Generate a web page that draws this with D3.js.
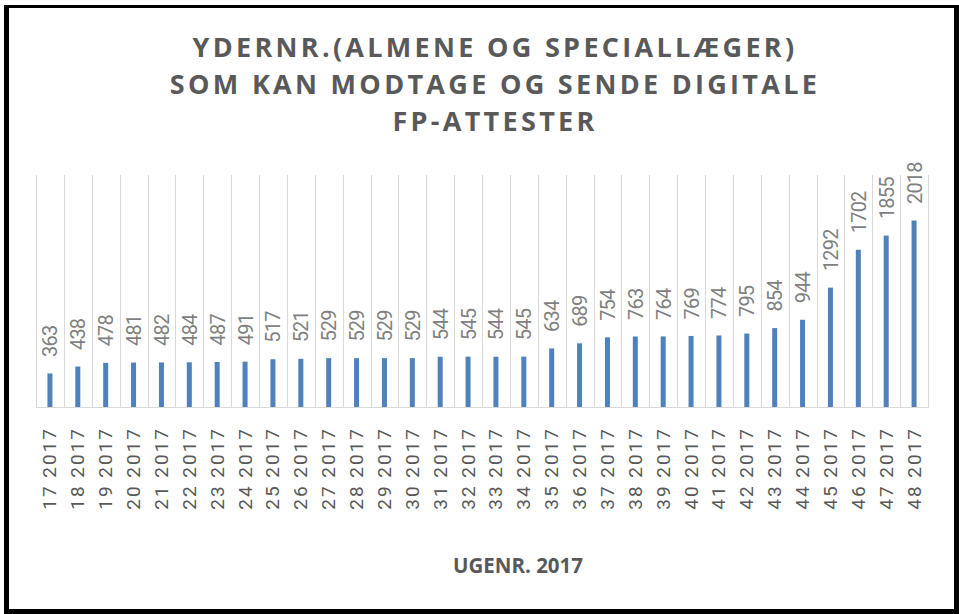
<!DOCTYPE html>
<html>
<head>
<meta charset="utf-8">
<style type="text/css">
	body { margin: 0; background: white; }
	.chart text { font-family: "Open Sans", sans-serif; }
	.chart .title { font-weight: bold; fill: #595959; font-size: 27px; letter-spacing: 3.3px; text-anchor: middle; }
	.chart .axistitle { font-weight: bold; fill: #595959; font-size: 20.5px; text-anchor: middle; }
	.chart .vlabel { font-family: Roboto, sans-serif; fill: #7f7f7f; font-size: 20px; letter-spacing: -0.8px; }
	.chart .xlabel { font-family: Roboto, sans-serif; fill: #595959; font-size: 19px; letter-spacing: 2px; text-anchor: end; }
	.chart line { stroke: #d9d9d9; stroke-width: 1; }
</style>
</head>
<body>
<svg class="chart" width="959" height="614"></svg>
<script src="https://cdn.jsdelivr.net/npm/d3@7"></script>
<script>
// weeks of 2017 and number of practices able to send / receive digital FP certificates
var weeks = [17, 18, 19, 20, 21, 22, 23, 24, 25, 26, 27, 28, 29, 30, 31, 32,
             33, 34, 35, 36, 37, 38, 39, 40, 41, 42, 43, 44, 45, 46, 47, 48];
var counts = [363, 438, 478, 481, 482, 484, 487, 491, 517, 521, 529, 529, 529, 529, 544, 545,
              544, 545, 634, 689, 754, 763, 764, 769, 774, 795, 854, 944, 1292, 1702, 1855, 2018];
var categories = weeks.map(function(w) { return w + " 2017"; });
var titleLines = ["YDERNR.(ALMENE OG SPECIALLÆGER)", "SOM KAN MODTAGE OG SENDE DIGITALE", "FP-ATTESTER"];
var xTitle = "UGENR. 2017";
var yMax = 2500;

var svg = d3.select("svg");

// outer frame
svg.append("rect").attr("x", 4).attr("y", 5).attr("width", 5).attr("height", 609).attr("fill", "black");
svg.append("rect").attr("x", 4).attr("y", 5).attr("width", 955).attr("height", 3).attr("fill", "black");
svg.append("rect").attr("x", 954).attr("y", 5).attr("width", 5).attr("height", 609).attr("fill", "black");
svg.append("rect").attr("x", 4).attr("y", 609).attr("width", 955).attr("height", 5).attr("fill", "black");

var plotLeft = 36, plotRight = 928, plotTop = 176, plotBottom = 407;

var x = d3.scaleBand()
	.domain(categories)
	.range([plotLeft, plotRight]);

var y = d3.scaleLinear()
	.domain([0, yMax])
	.range([plotBottom, plotTop]);

// title
svg.selectAll("text.title")
	.data(titleLines)
	.enter()
	.append("text")
	.attr("class", "title")
	.attr("x", 495)
	.attr("y", function(d, i) { return 57 + i * 37; })
	.text(function(d) { return d; });

// vertical gridlines at category boundaries
var bounds = categories.map(function(c) { return x(c); }).concat([plotRight]);
svg.selectAll("line.grid")
	.data(bounds)
	.enter()
	.append("line")
	.attr("class", "grid")
	.attr("x1", function(d) { return Math.round(d) + 0.5; })
	.attr("x2", function(d) { return Math.round(d) + 0.5; })
	.attr("y1", plotTop - 1)
	.attr("y2", plotBottom);

// baseline
svg.append("line")
	.attr("x1", plotLeft)
	.attr("x2", plotRight + 1)
	.attr("y1", plotBottom + 0.5)
	.attr("y2", plotBottom + 0.5);

// bars
var barW = 5;
svg.selectAll("rect.bar")
	.data(counts)
	.enter()
	.append("rect")
	.attr("class", "bar")
	.attr("x", function(d, i) { return x(categories[i]) + x.bandwidth() / 2 - barW / 2; })
	.attr("y", function(d) { return y(d); })
	.attr("width", barW)
	.attr("height", function(d) { return plotBottom - y(d); })
	.attr("fill", "#4f81bd");

// value labels (rotated)
svg.selectAll("text.vlabel")
	.data(counts)
	.enter()
	.append("text")
	.attr("class", "vlabel")
	.attr("transform", function(d, i) {
		var cx = x(categories[i]) + x.bandwidth() / 2 + 7.5;
		return "translate(" + cx + "," + (y(d) - 16.5) + ") rotate(-90)";
	})
	.text(function(d) { return d; });

// category labels (rotated)
svg.selectAll("text.xlabel")
	.data(categories)
	.enter()
	.append("text")
	.attr("class", "xlabel")
	.attr("transform", function(d) {
		var cx = x(d) + x.bandwidth() / 2 + 6.5;
		return "translate(" + cx + "," + (plotBottom + 20) + ") rotate(-90)";
	})
	.text(function(d) { return d; });

// axis title
svg.append("text")
	.attr("class", "axistitle")
	.attr("x", 518)
	.attr("y", 573)
	.text(xTitle);
</script>
</body>
</html>
